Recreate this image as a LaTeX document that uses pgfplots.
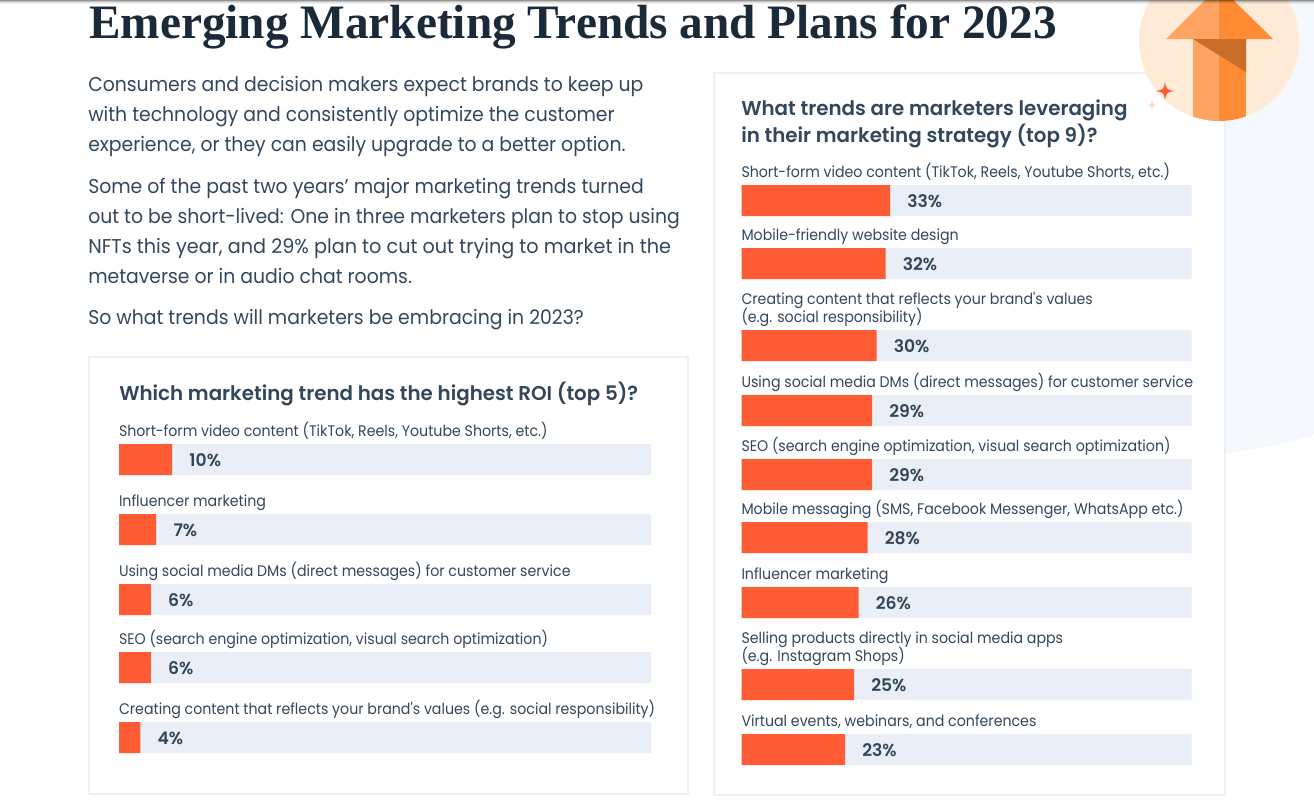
\documentclass[border=0pt]{standalone}
\usepackage{pgfplots}
\usepackage{pgfplotstable}
\usepackage{fontspec}
\pgfplotsset{compat=1.18}
\newfontfamily\bodyfont[FakeStretch=0.941]{Poppins}
\newfontfamily\bodywide[FakeStretch=0.96]{Poppins}
\newfontfamily\labelfont[FakeStretch=0.925]{Poppins}
\newfontfamily\headfont[FakeStretch=0.992,BoldFont={Poppins SemiBold}]{Poppins}
\newfontfamily\titlefont[FakeStretch=0.985]{Liberation Serif}
\definecolor{bar}{HTML}{FF5C35}
\definecolor{track}{HTML}{EAEEF6}
\definecolor{ink}{HTML}{33475B}
\definecolor{titleink}{HTML}{1B2A38}
\definecolor{edge}{HTML}{EDF1F7}
\definecolor{pale}{HTML}{F5F8FC}
\definecolor{disc}{HTML}{FDEBD8}
\definecolor{arrowL}{HTML}{FFA462}
\definecolor{arrowR}{HTML}{FF8C34}
\definecolor{arrowD}{HTML}{C96D28}

% pos = pixel row of the bar centre
\pgfplotstableread{
pos value track
459.5 10 100
529.5 7 100
599.5 6 100
667.5 6 100
737.5 4 100
}\roidata
\pgfplotstableread{
pos value track
200.5 33 100
263.5 32 100
345.5 30 100
410.5 29 100
474.5 29 100
537.5 28 100
602.5 26 100
684.5 25 100
749.5 23 100
}\trenddata

\pgfplotsset{trendbars/.style={
  scale only axis, y dir=reverse, clip=false,
  xmin=0, xmax=100, xtick=\empty, ytick=data,
  axis line style={draw=none}, major tick length=0pt,
  xbar, bar shift=0pt, bar width=23.25pt,
  yticklabel style={anchor=south west, inner sep=0pt, outer sep=0pt, text depth=0pt,
    align=left, yshift=17.6pt, text=ink,
    font=\labelfont\fontsize{11.5pt}{13.5pt}\selectfont},
  pct/.style={fill=bar,draw=none,
    nodes near coords={\pgfmathprintnumber[assume math mode=true]{\pgfplotspointmeta}\%},
    point meta=x,
    every node near coord/.style={anchor=west,xshift=12.75pt,yshift=-0.6pt,inner sep=0pt,text=ink,
      font=\headfont\bfseries\fontsize{13pt}{15pt}\selectfont}},
}}
\newcommand{\sparkle}[4]{\fill[#4] (#1,#2-#3) .. controls (#1+0.14*#3,#2-0.14*#3) .. (#1+#3,#2)
  .. controls (#1+0.14*#3,#2+0.14*#3) .. (#1,#2+#3) .. controls (#1-0.14*#3,#2+0.14*#3) .. (#1-#3,#2)
  .. controls (#1-0.14*#3,#2-0.14*#3) .. cycle;}

\begin{document}
\begin{tikzpicture}[x=0.75pt,y=-0.75pt]
\path[use as bounding box] (0,0) rectangle (1314,807);
\begin{scope}
\clip (0,0) rectangle (1314,807);
\fill[pale] (1200,0) -- (1314,0) -- (1314,435) .. controls (1285,444) and (1255,450) .. (1200,457) -- cycle;
\fill[white,draw=edge,line width=1.5pt] (713.5,72.5) rectangle (1225,795);
\fill[white,draw=edge,line width=1.5pt] (88.5,356.5) rectangle (687.5,794);
\fill[disc] (1219,41) circle (80);
\begin{scope}
\clip (1219,41) circle (80);
\fill[arrowL] (1193,39) rectangle (1219,130);
\fill[arrowR] (1219,39) rectangle (1246,130);
\fill[arrowL] (1166,39) -- (1219,-14) -- (1219,39) -- cycle;
\fill[arrowR] (1273,39) -- (1219,-14) -- (1219,39) -- cycle;
\fill[arrowD] (1193,39) -- (1246,39) -- (1246,72) -- cycle;
\end{scope}
\sparkle{1165}{91}{9.5}{bar}
\sparkle{1152}{105}{4.5}{bar!30}
% browser shadow along the top edge
\fill[black,opacity=.42] (0,0) rectangle (1314,1);
\fill[black,opacity=.24] (0,1) rectangle (1314,2);
\fill[black,opacity=.12] (0,2) rectangle (1314,3);
\fill[black,opacity=.05] (0,3) rectangle (1314,4);
\end{scope}

\node[anchor=base west,inner sep=0pt,text=titleink,font=\titlefont\bfseries\fontsize{36pt}{36pt}\selectfont] at (89,38) {Emerging Marketing Trends and Plans for 2023};

\begin{scope}[every node/.style={anchor=base west,inner sep=0pt,text=ink,font=\bodyfont\fontsize{15pt}{18pt}\selectfont}]
\node at (88,91) {Consumers and decision makers expect brands to keep up};
\node at (88,121) {with technology and consistently optimize the customer};
\node at (88,151) {experience, or they can easily upgrade to a better option.};
\node at (88,193) {Some of the past two years’ major marketing trends turned};
\node at (88,223) {out to be short-lived: One in three marketers plan to stop using};
\node[font=\bodywide\fontsize{15pt}{18pt}\selectfont] at (88,253) {NFTs this year, and 29\% plan to cut out trying to market in the};
\node at (88,283) {metaverse or in audio chat rooms.};
\node at (88,324) {So what trends will marketers be embracing in 2023?};
\end{scope}

\begin{scope}[every node/.style={anchor=base west,inner sep=0pt,text=ink,font=\headfont\bfseries\fontsize{15pt}{18pt}\selectfont}]
\node at (119,400) {Which marketing trend has the highest ROI (top 5)?};
\node at (741,115) {What trends are marketers leveraging};
\node at (741,142) {in their marketing strategy (top 9)?};
\end{scope}

\coordinate (roi) at (119,430);
\coordinate (trend) at (741.5,170);

\begin{axis}[trendbars, at={(roi)}, anchor=north west,
  width=399pt, height=255pt, ymin=430, ymax=770,
  yticklabels={{Short-form video content (TikTok, Reels, Youtube Shorts, etc.)},
    {Influencer marketing},
    {Using social media DMs (direct messages) for customer service},
    {SEO (search engine optimization, visual search optimization)},
    {Creating content that reflects your brand's values (e.g. social responsibility)}}]
\addplot[fill=track,draw=none] table[x=track,y=pos] {\roidata};
\addplot[pct] table[x=value,y=pos] {\roidata};
\end{axis}

\begin{axis}[trendbars, at={(trend)}, anchor=north west,
  width=337.5pt, height=457.5pt, ymin=170, ymax=780,
  yticklabels={{Short-form video content (TikTok, Reels, Youtube Shorts, etc.)},
    {Mobile-friendly website design},
    {Creating content that reflects your brand's values\\[-1.5pt](e.g. social responsibility)},
    {Using social media DMs (direct messages) for customer service},
    {SEO (search engine optimization, visual search optimization)},
    {Mobile messaging (SMS, Facebook Messenger, WhatsApp etc.)},
    {Influencer marketing},
    {Selling products directly in social media apps\\[-1.5pt](e.g. Instagram Shops)},
    {Virtual events, webinars, and conferences}}]
\addplot[fill=track,draw=none] table[x=track,y=pos] {\trenddata};
\addplot[pct] table[x=value,y=pos] {\trenddata};
\end{axis}
\end{tikzpicture}
\end{document}
